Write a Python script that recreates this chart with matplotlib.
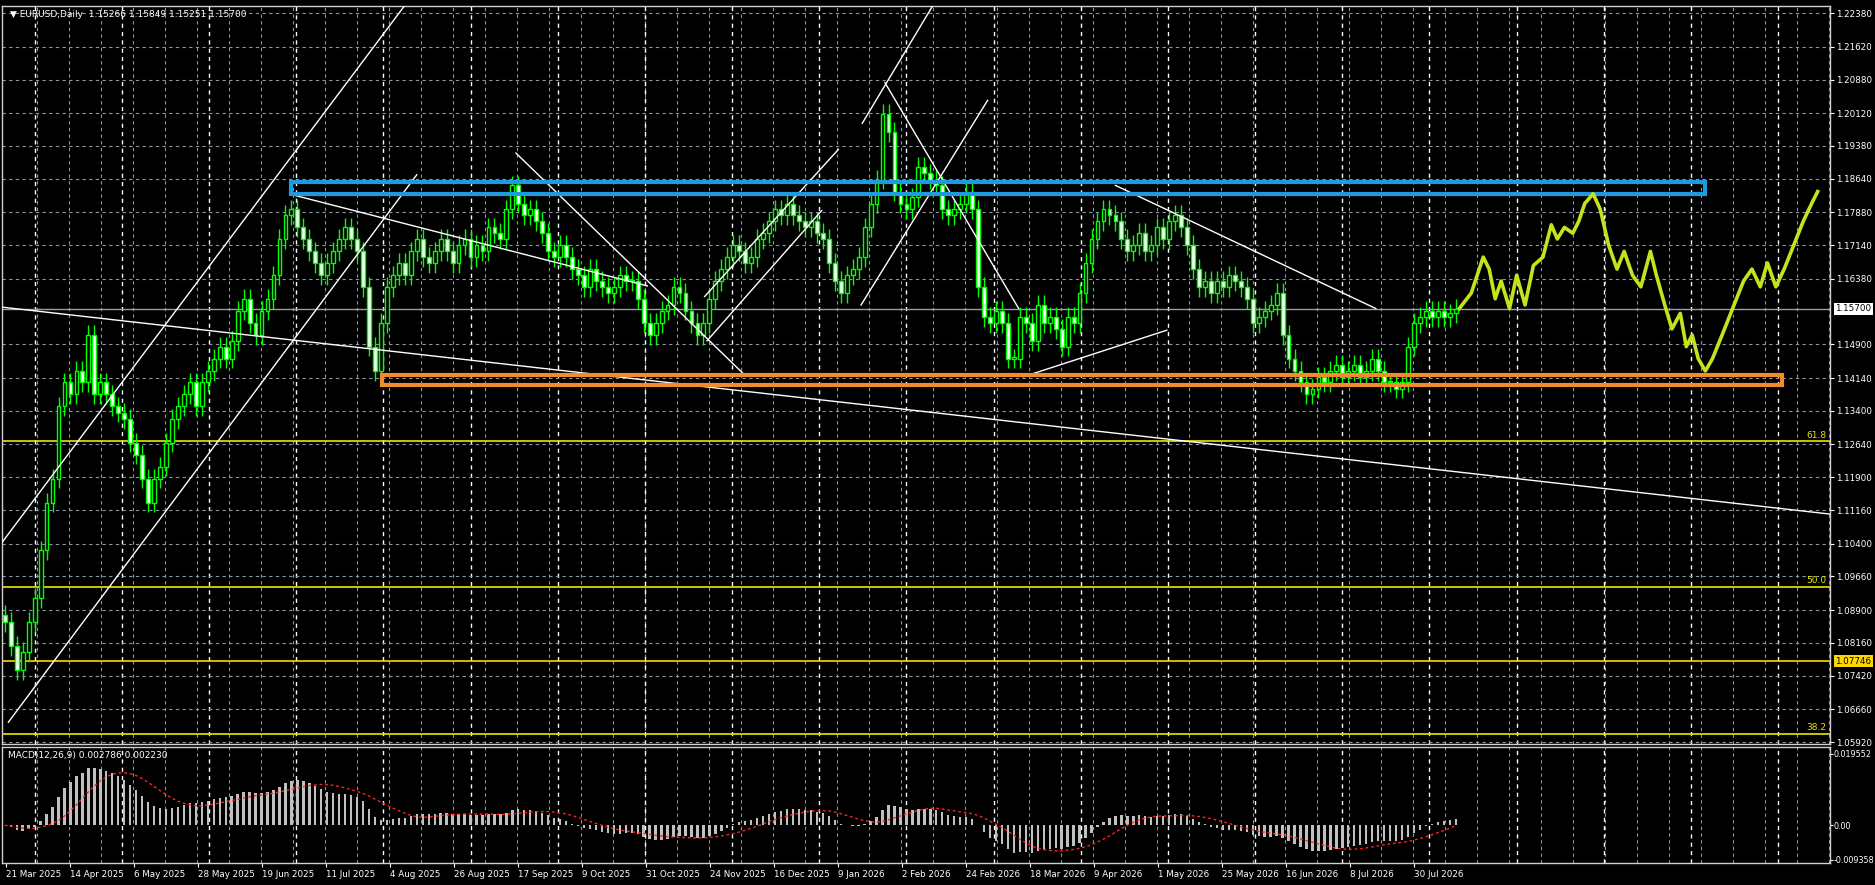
import numpy as np
import pandas as pd
import matplotlib
matplotlib.use('Agg')
import matplotlib.pyplot as plt
from matplotlib.patches import Rectangle

# daily closes (one value per bar)
closes = [1.0863,1.0809,1.0755,1.0796,1.0863,1.0917,1.1025,1.1133,1.1187,1.1350,1.1404,1.1377,1.1430,1.1404,1.1511,
1.1377,1.1404,1.1377,1.1350,1.1336,1.1322,1.1268,1.1241,1.1187,1.1133,1.1187,1.1214,1.1268,1.1322,1.1350,1.1377,
1.1404,1.1350,1.1404,1.1430,1.1458,1.1485,1.1458,1.1498,1.1566,1.1592,1.1538,1.1511,1.1566,1.1592,1.1646,1.1728,
1.1782,1.1795,1.1754,1.1728,1.1700,1.1674,1.1646,1.1674,1.1700,1.1728,1.1754,1.1728,1.1700,1.1620,1.1485,1.1430,
1.1538,1.1620,1.1646,1.1674,1.1646,1.1700,1.1728,1.1687,1.1674,1.1700,1.1728,1.1700,1.1674,1.1714,1.1728,1.1687,
1.1714,1.1700,1.1754,1.1741,1.1728,1.1795,1.1849,1.1808,1.1782,1.1795,1.1768,1.1741,1.1700,1.1687,1.1714,1.1687,
1.1660,1.1646,1.1620,1.1660,1.1633,1.1620,1.1606,1.1620,1.1646,1.1633,1.1633,1.1592,1.1538,1.1511,1.1538,1.1566,
1.1579,1.1620,1.1606,1.1566,1.1538,1.1511,1.1538,1.1592,1.1633,1.1660,1.1687,1.1714,1.1700,1.1674,1.1687,1.1728,
1.1741,1.1768,1.1795,1.1782,1.1808,1.1782,1.1768,1.1754,1.1768,1.1741,1.1728,1.1674,1.1633,1.1606,1.1646,1.1660,
1.1687,1.1754,1.1808,1.1862,1.2011,1.1970,1.1835,1.1808,1.1795,1.1822,1.1890,1.1876,1.1862,1.1849,1.1795,1.1782,
1.1795,1.1808,1.1835,1.1795,1.1620,1.1552,1.1538,1.1566,1.1538,1.1458,1.1458,1.1552,1.1538,1.1498,1.1579,1.1538,
1.1552,1.1525,1.1485,1.1552,1.1538,1.1606,1.1674,1.1728,1.1768,1.1795,1.1782,1.1768,1.1728,1.1700,1.1714,1.1741,
1.1700,1.1714,1.1754,1.1728,1.1768,1.1782,1.1754,1.1714,1.1660,1.1620,1.1633,1.1606,1.1633,1.1620,1.1646,1.1633,
1.1620,1.1592,1.1538,1.1552,1.1566,1.1579,1.1606,1.1511,1.1458,1.1430,1.1404,1.1377,1.1390,1.1417,1.1404,1.1430,
1.1444,1.1417,1.1430,1.1444,1.1417,1.1430,1.1458,1.1430,1.1404,1.1404,1.1390,1.1404,1.1485,1.1538,1.1552,1.1566,
1.1552,1.1566,1.1552,1.1560,1.1570]
first_open = 1.0880

date_labels = ['21 Mar 2025','14 Apr 2025','6 May 2025','28 May 2025','19 Jun 2025','11 Jul 2025','4 Aug 2025',
               '26 Aug 2025','17 Sep 2025','9 Oct 2025','31 Oct 2025','24 Nov 2025','16 Dec 2025','9 Jan 2026',
               '2 Feb 2026','24 Feb 2026','18 Mar 2026','9 Apr 2026','1 May 2026','25 May 2026','16 Jun 2026',
               '8 Jul 2026','30 Jul 2026']
price_ticks = [1.05920,1.06660,1.07420,1.08160,1.08900,1.09660,1.10400,1.11160,1.11900,1.12640,1.13400,
               1.14140,1.14900,1.16380,1.17140,1.17880,1.18640,1.19380,1.20120,1.20880,1.21620,1.22380]
current_price = 1.15700

# drawn objects (bar index, price)
trend_lines = [
    ((-0.4, 1.1574), (305.6, 1.1107)),
    ((-0.4, 1.1044), (67.2, 1.2259)),
    ((0.6, 1.0637), (69.0, 1.1873)),
    ((48.4, 1.1827), (107.6, 1.1622)),
    ((85.6, 1.1922), (123.6, 1.1425)),
    ((117.2, 1.1598), (139.6, 1.1930)),
    ((117.6, 1.1498), (136.8, 1.1792)),
    ((143.6, 1.1989), (155.6, 1.2259)),
    ((143.4, 1.1579), (164.6, 1.2041)),
    ((147.4, 1.2081), (169.8, 1.1571)),
    ((170.6, 1.1417), (194.6, 1.1522)),
    ((186.0, 1.1849), (229.6, 1.1571)),
]
resist_zone = (48.0, 284.8, 1.1830, 1.1857)
support_zone = (63.2, 297.6, 1.1398, 1.1420)
fib_levels = [(1.1271, '61.8'), (1.0942, '50.0'), (1.0610, '38.2')]
gold_level = 1.07746

fc_bar = [243.6,245.6,247.6,248.6,249.6,250.6,252,253.2,254.6,256,257.6,259,260,261.2,262.6,263.6,264.6,266,
          267.2,268.6,270,271.2,272.6,274,275.6,276.6,278,279.2,280.6,281.6,282.6,283.6,284.8,286,287.6,289.6,
          291.2,292.6,294,295.2,296.6,298,299.6,301.2,302.6,303.6]
fc_price = [1.1571,1.1606,1.1687,1.1660,1.1593,1.1633,1.1571,1.1646,1.1579,1.1668,1.1687,1.1760,1.1728,1.1754,
            1.1741,1.1768,1.1808,1.1830,1.1795,1.1714,1.1660,1.1700,1.1646,1.1620,1.1700,1.1646,1.1579,1.1525,
            1.1560,1.1485,1.1511,1.1458,1.1430,1.1458,1.1511,1.1579,1.1633,1.1660,1.1620,1.1674,1.1620,1.1660,
            1.1714,1.1768,1.1808,1.1835]

c = np.array(closes)
o = np.concatenate([[first_open], c[:-1]])
hi = np.maximum(o, c) + 0.0022
lo = np.minimum(o, c) - 0.0022
n = len(c)
x = np.arange(n)

cs = pd.Series(c)
macd = cs.ewm(span=12, adjust=False).mean() - cs.ewm(span=26, adjust=False).mean()
signal = macd.rolling(9, min_periods=1).mean()

W, H = 1568.0, 740.0
fig = plt.figure(figsize=(18.75, 8.85), dpi=100, facecolor='black')
ax = fig.add_axes([2/W, 1-622/H, 1528/W, 617/H], facecolor='black')
am = fig.add_axes([2/W, 1-722/H, 1528/W, 97/H], facecolor='black', sharex=ax)

XMIN, XMAX = -0.4, 305.6
grid_gray = '#8a96a6'
for a in (ax, am):
    for s in a.spines.values():
        s.set_color('#d0d0d0')
        s.set_linewidth(1)
    for k in range(60):
        gx = (27 + 26.8 * k) / 5
        if gx < XMAX:
            a.axvline(gx, color=grid_gray, ls=(0, (3, 3)), lw=0.8, zorder=0)
    for k in range(22):
        gx = (25 + 73 * k) / 5
        if gx < XMAX:
            a.axvline(gx, color='white', ls=(0, (3, 3)), lw=1.0, zorder=0)

for p in price_ticks:
    ax.axhline(p, color=grid_gray, ls=(0, (3, 3)), lw=0.8, zorder=0)

# candles
ax.vlines(x, lo, hi, color='#00ff00', lw=1, zorder=3)
for i in range(n):
    up = c[i] >= o[i]
    b = min(o[i], c[i])
    h = max(abs(c[i] - o[i]), 0.0003)
    ax.add_patch(Rectangle((i - 0.32, b), 0.64, h, facecolor='black' if up else 'white',
                           edgecolor='#00ff00', lw=1, zorder=4))

for (x0, y0), (x1, y1) in trend_lines:
    ax.plot([x0, x1], [y0, y1], color='white', lw=1, zorder=5)

for z, col in ((resist_zone, '#1e9be0'), (support_zone, '#f28c28')):
    ax.add_patch(Rectangle((z[0], z[2]), z[1] - z[0], z[3] - z[2], facecolor='none',
                           edgecolor=col, lw=3, zorder=6))

for lvl, lab in fib_levels:
    ax.axhline(lvl, color='#e8e800', lw=1.2, zorder=2)
    ax.text(XMAX - 0.5, lvl + 0.0004, lab, color='#e8e800', fontsize=6.5, ha='right', va='bottom')
ax.axhline(gold_level, color='#ffd700', lw=1.2, zorder=2)
ax.axhline(current_price, color='#9aa0a8', lw=1, zorder=2)

ax.plot(fc_bar, fc_price, color='#c6e21c', lw=2.6, zorder=7)

ax.set_xlim(XMIN, XMAX)
ax.set_ylim(1.05881, 1.22540)
ax.yaxis.tick_right()
ax.set_yticks(price_ticks)
ax.set_yticklabels([f'{p:.5f}' for p in price_ticks])
ax.tick_params(axis='y', colors='white', labelsize=6.3, length=3, pad=2)
ax.tick_params(axis='x', bottom=False, labelbottom=False)

ax.text(XMAX + 1.0, current_price, f'{current_price:.5f}', color='black', fontsize=6.3, va='center',
        ha='left', bbox=dict(facecolor='white', edgecolor='none', pad=1.2), clip_on=False)
ax.text(XMAX + 1.0, gold_level, f'{gold_level:.5f}', color='black', fontsize=6.3, va='center',
        ha='left', bbox=dict(facecolor='#ffd700', edgecolor='none', pad=1.2), clip_on=False)
ax.text(0.004, 0.994, '\u25bc EURUSD,Daily  1.15266 1.15849 1.15251 1.15700', transform=ax.transAxes,
        color='white', fontsize=6.5, va='top', ha='left')

# MACD panel
am.bar(x, macd, width=0.4, color='#c0c0c0', zorder=3)
am.plot(x, signal, color='#ff2020', lw=1, ls=(0, (2, 2)), zorder=4)
am.set_ylim(-0.0104, 0.0212)
am.yaxis.tick_right()
am.set_yticks([0.019552, 0.0, -0.009358])
am.set_yticklabels(['0.019552', '0.00', '-0.009358'])
am.tick_params(axis='y', colors='white', labelsize=5.8, length=2, pad=1)
am.set_xticks([0.2 + 10.72 * k for k in range(len(date_labels))])
am.set_xticklabels(date_labels, ha='left')
am.tick_params(axis='x', colors='white', labelsize=6.3, length=3, pad=2)
am.text(0.003, 0.97, 'MACD(12,26,9) 0.002786 0.002230', transform=am.transAxes, color='white',
        fontsize=6.5, va='top', ha='left')

fig.savefig('out.png', dpi=100, facecolor='black')
